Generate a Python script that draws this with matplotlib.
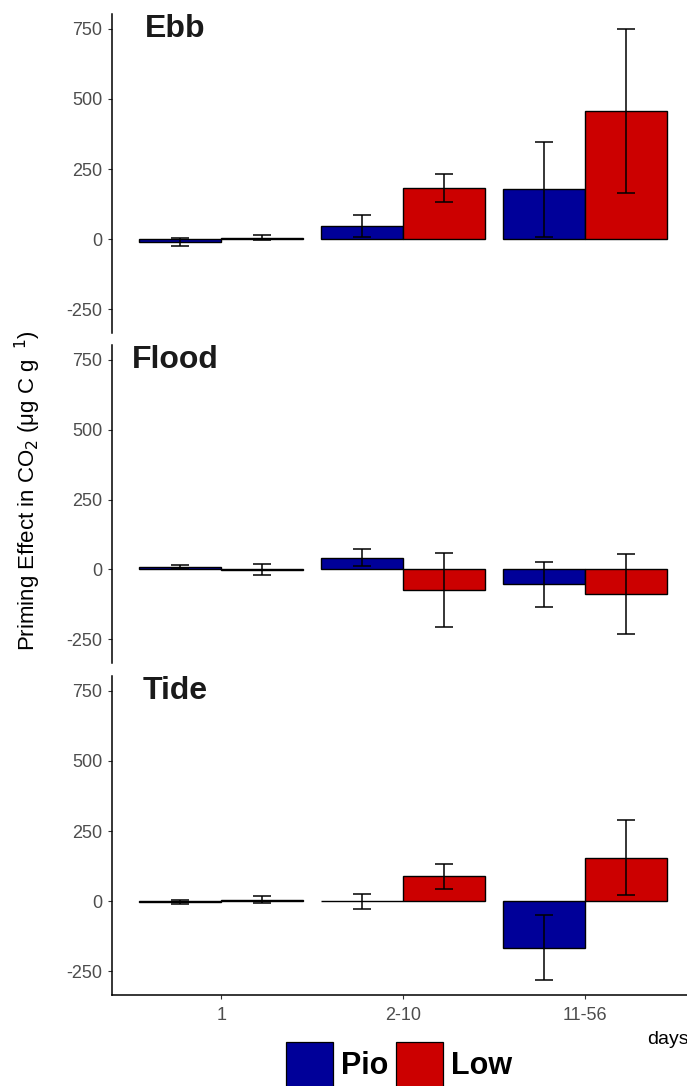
import numpy as np
import matplotlib.pyplot as plt
from matplotlib.patches import Patch

plt.rcParams['font.family'] = ['Liberation Sans', 'DejaVu Sans']
plt.rcParams['axes.unicode_minus'] = False

# data (mean and error half-width)
categories = ['1', '2-10', '11-56']
panels = ['Ebb', 'Flood', 'Tide']

ebb_pio = [-10, 48, 177]
ebb_pio_err = [14, 39, 170]
ebb_low = [5, 181, 458]
ebb_low_err = [10, 50, 293]

flood_pio = [9, 42, -54]
flood_pio_err = [6, 30, 80]
flood_low = [-1, -73, -88]
flood_low_err = [20, 133, 142]

tide_pio = [-3, 0, -166]
tide_pio_err = [8, 27, 116]
tide_low = [5, 89, 155]
tide_low_err = [12, 45, 133]

pio_vals = [ebb_pio, flood_pio, tide_pio]
pio_errs = [ebb_pio_err, flood_pio_err, tide_pio_err]
low_vals = [ebb_low, flood_low, tide_low]
low_errs = [ebb_low_err, flood_low_err, tide_low_err]

col_pio = '#000099'
col_low = '#CC0000'

fig = plt.figure(figsize=(6.87, 10.86), dpi=100)

W, H = 687, 1086
left = 112 / W
width = (694 - 112) / W
tops = [14, 345, 676]
bottoms = [333, 663, 995]

x = np.arange(1, len(categories) + 1)
bw = 0.45

for i, name in enumerate(panels):
    ax = fig.add_axes([left, 1 - bottoms[i] / H, width, (bottoms[i] - tops[i]) / H])
    ax.bar(x - bw / 2, pio_vals[i], bw, color=col_pio, edgecolor='black', linewidth=1.0)
    ax.bar(x + bw / 2, low_vals[i], bw, color=col_low, edgecolor='black', linewidth=1.0)
    ax.errorbar(x - bw / 2, pio_vals[i], yerr=pio_errs[i], fmt='none', ecolor='black',
                elinewidth=1.1, capsize=6.5, capthick=1.1)
    ax.errorbar(x + bw / 2, low_vals[i], yerr=low_errs[i], fmt='none', ecolor='black',
                elinewidth=1.1, capsize=6.5, capthick=1.1)
    ax.set_xlim(0.4, 3.6)
    ax.set_ylim(-335, 803)
    ax.set_yticks([-250, 0, 250, 500, 750])
    ax.set_yticklabels(['-250', '0', '250', '500', '750'])
    ax.tick_params(axis='y', labelsize=13, labelcolor='#4D4D4D', color='#333333',
                   length=3, width=0.8, pad=4)
    for s in ['top', 'right']:
        ax.spines[s].set_visible(False)
    ax.spines['left'].set_linewidth(1.1)
    ax.text(0.75, 750, name, ha='center', va='center', fontsize=23,
            fontweight='bold', color='#1A1A1A')
    if i < 2:
        ax.spines['bottom'].set_visible(False)
        ax.set_xticks([])
    else:
        ax.spines['bottom'].set_linewidth(1.1)
        ax.set_xticks(x)
        ax.set_xticklabels(categories)
        ax.tick_params(axis='x', labelsize=13, labelcolor='#4D4D4D', color='#333333',
                       length=3, width=0.8, pad=6)

fig.text(28 / W, 0.548, r'Priming Effect in CO$_2$ ($\mathregular{\mu}$g C g$^{\ \ 1}$)',
         rotation=90, ha='center', va='center', fontsize=16)
fig.text(647 / W, 1 - 1040 / H, 'days', ha='left', va='center', fontsize=14)

handles = [Patch(facecolor=col_pio, edgecolor='black', linewidth=0.9, label='Pio'),
           Patch(facecolor=col_low, edgecolor='black', linewidth=0.9, label='Low')]
fig.legend(handles=handles, loc='upper center', bbox_to_anchor=(399 / W, 1 - 1042 / H),
           ncol=2, frameon=False, prop={'weight': 'bold', 'size': 22},
           handlelength=1.55, handleheight=1.9, handletextpad=0.25, columnspacing=0.25,
           borderpad=0, borderaxespad=0)

fig.savefig('out.png', dpi=100)
